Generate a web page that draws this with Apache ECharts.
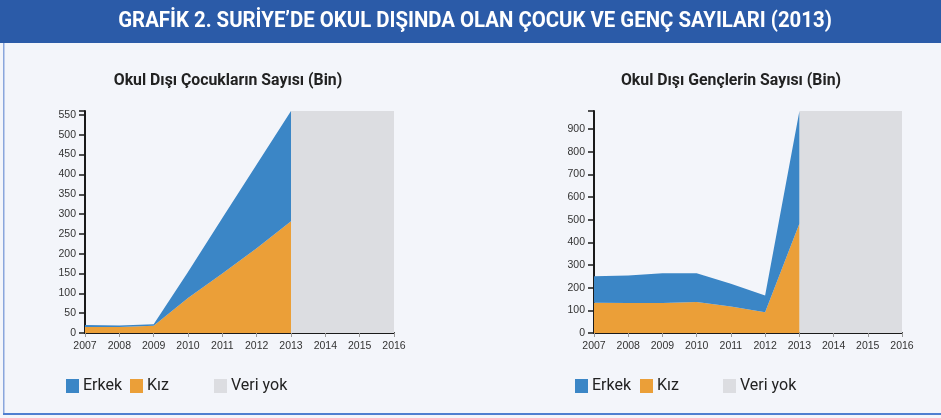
<!DOCTYPE html>
<html>
<head>
<meta charset="utf-8">
<script src="https://cdn.jsdelivr.net/npm/echarts@6/dist/echarts.min.js"></script>
<style>
  html, body { margin: 0; padding: 0; background: #f3f5fa; }
  #main { width: 941px; height: 418px; }
</style>
</head>
<body>
<div id="main"></div>
<script>
// data (thousands)
const years = ['2007', '2008', '2009', '2010', '2011', '2012', '2013', '2014', '2015', '2016'];
const cocukKiz   = [15, 15, 18, 88, 150, 214, 282];
const cocukErkek = [5, 4, 4, 66, 140, 211, 278];
const gencKiz    = [134, 132, 132, 137, 117, 92, 482];
const gencErkek  = [117, 122, 132, 127, 100, 74, 496];
const noDataFrom = years[6], noDataTo = years[9];

const sans = 'Roboto';
const blue = '#3b86c6', orange = '#eb9f38', grey = '#dcdde1';

const myChart = echarts.init(document.getElementById('main'));

function xAxisFor(i) {
    return {
        gridIndex: i, type: 'category', boundaryGap: false, data: years,
        axisLine: { lineStyle: { color: '#1a1a1a', width: 2 } },
        axisTick: { show: true, length: 4, lineStyle: { color: '#999' } },
        axisLabel: { color: '#333', fontSize: 10.5, fontFamily: 'Liberation Sans', margin: 8 },
        splitLine: { show: false }
    };
}
function yAxisFor(i, max, step) {
    return {
        gridIndex: i, type: 'value', min: 0, max: max, interval: step,
        axisLine: { show: true, lineStyle: { color: '#1a1a1a', width: 2 } },
        axisTick: { show: true, length: 6, lineStyle: { color: '#1a1a1a', width: 1.5 } },
        axisLabel: {
            color: '#333', fontSize: 10.5, fontFamily: 'Liberation Sans', margin: 9,
            formatter: v => (v % step === 0 ? v : '')
        },
        splitLine: { show: false }
    };
}
function areaSeries(name, data, color, gi, stack) {
    return {
        name: name, type: 'line', xAxisIndex: gi, yAxisIndex: gi, stack: stack,
        data: data, showSymbol: false, symbol: 'none',
        lineStyle: { width: 0 }, itemStyle: { color: color },
        areaStyle: { color: color, opacity: 1 }
    };
}
function noDataSeries(gi) {
    return {
        name: 'Veri yok', type: 'line', xAxisIndex: gi, yAxisIndex: gi,
        data: [], symbol: 'none', lineStyle: { width: 0 }, itemStyle: { color: grey },
        markArea: {
            silent: true, itemStyle: { color: grey },
            data: [[{ xAxis: noDataFrom }, { xAxis: noDataTo }]]
        }
    };
}
function legendAt(name, left) {
    return {
        data: [name], left: left - 5, top: 373, icon: 'rect', itemWidth: 13, itemHeight: 14,
        itemGap: 0, selectedMode: false,
        textStyle: { fontFamily: sans, fontSize: 16, color: '#222', padding: [0, 0, 0, -1] }
    };
}
// bold text, squeezed horizontally to look like the condensed face
function label(text, x, y, size, color, squeeze) {
    return {
        type: 'text', x: x, y: y, scaleX: squeeze, scaleY: 1,
        style: { text: text, x: 0, y: 0, align: 'center', verticalAlign: 'middle',
                 font: 'bold ' + size + 'px ' + sans, fill: color }
    };
}

myChart.setOption({
    backgroundColor: '#f3f5fa',
    animation: false,
    graphic: [
        { type: 'rect', shape: { x: 0, y: 0, width: 941, height: 43 }, style: { fill: '#2b5ba8' } },
        { type: 'rect', shape: { x: 3, y: 43, width: 1.5, height: 372 }, style: { fill: '#8aa6dc' } },
        { type: 'rect', shape: { x: 3, y: 413, width: 938, height: 2 }, style: { fill: '#4f7fd0' } },
        label('GRAFİK 2. SURİYE’DE OKUL DIŞINDA OLAN ÇOCUK VE GENÇ SAYILARI (2013)', 475, 22, 21.5, '#fff', 0.947),
        label('Okul Dışı Çocukların Sayısı (Bin)', 228, 81, 17, '#222', 0.93),
        label('Okul Dışı Gençlerin Sayısı (Bin)', 731, 81, 17, '#222', 0.93)
    ],
    legend: [
        legendAt('Erkek', 66), legendAt('Kız', 130), legendAt('Veri yok', 214),
        legendAt('Erkek', 575), legendAt('Kız', 640), legendAt('Veri yok', 723)
    ],
    grid: [
        { left: 85, top: 111, width: 309, height: 222 },
        { left: 594, top: 111, width: 308, height: 222 }
    ],
    xAxis: [xAxisFor(0), xAxisFor(1)],
    yAxis: [yAxisFor(0, 560, 50), yAxisFor(1, 980, 100)],
    series: [
        noDataSeries(0),
        areaSeries('Kız', cocukKiz, orange, 0, 'cocuk'),
        areaSeries('Erkek', cocukErkek, blue, 0, 'cocuk'),
        noDataSeries(1),
        areaSeries('Kız', gencKiz, orange, 1, 'genc'),
        areaSeries('Erkek', gencErkek, blue, 1, 'genc')
    ]
});
</script>
</body>
</html>
